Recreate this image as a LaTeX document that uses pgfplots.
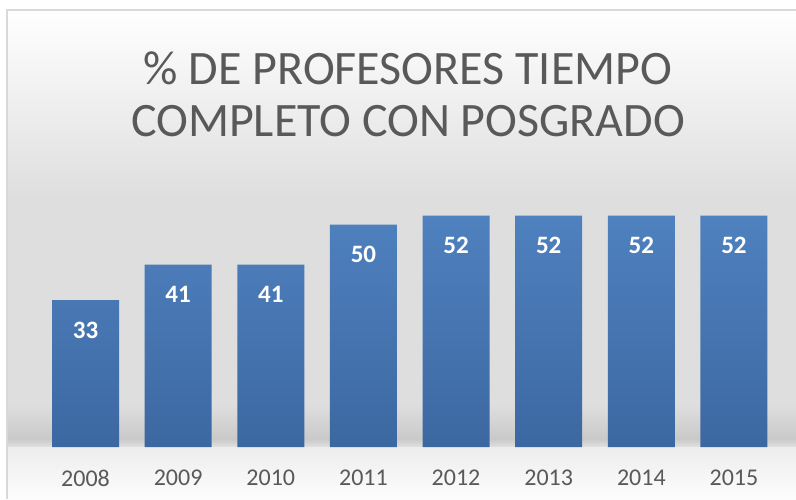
\documentclass[border=0pt]{standalone}
\usepackage{fontspec}
\setmainfont{Carlito}
\usepackage{pgfplots}
\pgfplotsset{compat=1.18}
\definecolor{titlegray}{HTML}{595959}
\definecolor{bartop}{HTML}{4F81BF}
\definecolor{barbot}{HTML}{3C68A1}
\definecolor{framegray}{HTML}{D9D9D9}

\begin{document}
\begin{tikzpicture}[x=1pt,y=1pt]
\useasboundingbox (0pt,0pt) rectangle (796pt,499pt);
\fill[white] (0pt,0pt) rectangle (796pt,499pt);
% background
\shade[top color=white, bottom color=black!13] (7pt,299pt) rectangle (796pt,489pt);
\fill[black!13] (7pt,94pt) rectangle (796pt,299pt);
\shade[top color=black!13, bottom color=black!21] (7pt,60pt) rectangle (796pt,94pt);
\shade[top color=black!21, bottom color=black!12] (7pt,52pt) rectangle (796pt,60pt);
\shade[top color=black!7, bottom color=black!1] (7pt,0pt) rectangle (796pt,52pt);
\draw[framegray, line width=1.5pt] (7pt,0pt) -- (7pt,489pt) -- (796pt,489pt);
% title
\node[align=center, text=titlegray, font=\fontsize{48}{52}\selectfont]
  at (408pt,405pt) {\% DE PROFESORES TIEMPO\\COMPLETO CON POSGRADO};
\begin{axis}[
    at={(39.2pt,52pt)}, anchor=south west,
    scale only axis,
    width=741.1pt, height=267pt,
    xmin=-0.5, xmax=7.5, ymin=0, ymax=60,
    axis lines=none,
    ybar, bar width=67pt,
    xtick={0,...,7},
    ytick=\empty,
    clip=false,
    /pgf/number format/assume math mode=true,
    nodes near coords,
    every node near coord/.append style={anchor=center, yshift=-30pt,
        text=white, font=\fontsize{25}{28}\selectfont\bfseries},
]
\addplot[draw=none, top color=bartop, bottom color=barbot] coordinates {
(0,33) (1,41) (2,41) (3,50) (4,52) (5,52) (6,52) (7,52)};
\end{axis}
% tick labels placed under the categories
\begin{axis}[
    at={(39.2pt,52pt)}, anchor=south west,
    scale only axis,
    width=741.1pt, height=267pt,
    xmin=-0.5, xmax=7.5, ymin=0, ymax=60,
    axis x line*=bottom, axis y line=none,
    x axis line style={draw=none},
    major tick length=0pt,
    xtick={0,...,7},
    xticklabels={2008,2009,2010,2011,2012,2013,2014,2015},
    xticklabel style={anchor=center, yshift=-31pt, text=titlegray,
        font=\fontsize{24}{26}\selectfont},
]
\addplot[draw=none] coordinates {(0,0)};
\end{axis}
\end{tikzpicture}
\end{document}
